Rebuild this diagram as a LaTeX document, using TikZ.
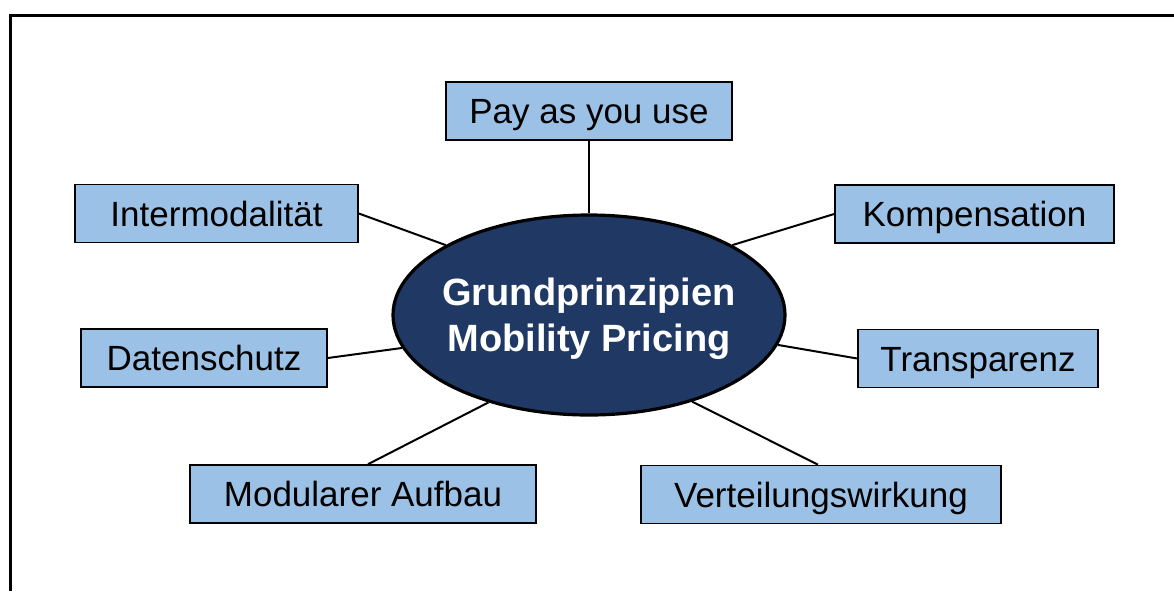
\documentclass[tikz,border=0pt]{standalone}
\usepackage{fontspec}
\setmainfont{Liberation Sans}
\usetikzlibrary{shapes.geometric}
\definecolor{boxblue}{RGB}{155,194,230}
\definecolor{kernblue}{RGB}{31,56,100}
\tikzset{%
    prinzip/.style={rectangle,draw=black,line width=0.8pt,fill=boxblue,minimum height=29pt,inner sep=0pt,text height=12.5pt,text depth=0pt,font=\fontsize{17.5}{20}\selectfont},
    kern/.style={ellipse,draw=black,line width=1.6pt,fill=kernblue,text=white,minimum width=196pt,minimum height=100pt,inner ysep=0pt,inner xsep=-14pt,align=center,font=\bfseries\fontsize{19}{23}\selectfont},
    link/.style={line width=1pt},
    rahmen/.style={line width=1.3pt}
}

\begin{document}
\begin{tikzpicture}[x=0.5pt,y=-0.5pt]
            \useasboundingbox (0,0) rectangle (1174,591);
            \draw[rahmen] (1174,15.5) -- (10.5,15.5) -- (10.5,591);
            %%%%%
            \node [kern] (gp) at (589,315) {\rule{0pt}{18pt}Grundprinzipien\\Mobility Pricing};
            \node [prinzip,minimum width=143pt] (pay) at (589,111) {Pay as you use};
            \node [prinzip,minimum width=141.5pt] (inter) at (216.5,213.5) {Intermodalität};
            \node [prinzip,minimum width=139.5pt] (komp) at (974.5,214) {Kompensation};
            \node [prinzip,minimum width=123pt] (daten) at (204,358) {Datenschutz};
            \node [prinzip,minimum width=120pt] (trans) at (978,358.5) {Transparenz};
            \node [prinzip,minimum width=173pt] (modul) at (363,494) {Modularer Aufbau};
            \node [prinzip,minimum width=180pt] (vert) at (821,494.5) {Verteilungswirkung};
            %%%%%
            \draw[link] (pay) -- (gp.90);
            \draw[link] (inter.east) -- (gp.154);
            \draw[link] (komp.west) -- (gp.26);
            \draw[link] (daten.east) -- (gp.190);
            \draw[link] (trans.west) -- (gp.351);
            \draw[link] ([xshift=2.5pt]modul.north) -- (gp.221);
            \draw[link] ([xshift=-1.5pt]vert.north) -- (gp.320);
\end{tikzpicture}
\end{document}
